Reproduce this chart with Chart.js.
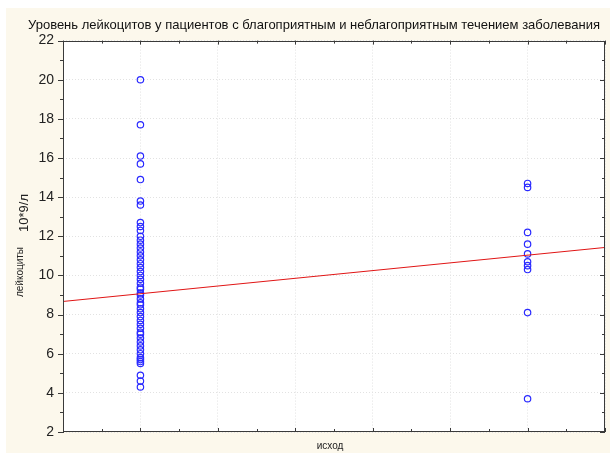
<!DOCTYPE html>
<html><head><meta charset="utf-8">
<script src="https://cdn.jsdelivr.net/npm/chart.js@4/dist/chart.umd.min.js"></script>
<style>html,body{margin:0;padding:0;background:#fff;} #wrap{width:610px;height:457px;position:relative;}</style>
</head><body><div id="wrap"><canvas id="c" width="610" height="457"></canvas></div>
<script>
const chartTitle = 'Уровень лейкоцитов у пациентов с благоприятным и неблагоприятным течением заболевания';
const xAxisTitle = 'исход';
const yAxisTitle = 'лейкоциты';
const yAxisUnit = '10*9/л';

const outcomeCategories = [0, 1]; // 0 = благоприятный, 1 = неблагоприятный
const favorableLeukocytes = [20.0, 17.7, 16.1, 15.7, 14.9, 13.8, 13.6, 12.7, 12.5, 12.3, 12.0, 11.8, 11.6, 11.4, 11.2, 11.0, 10.8, 10.6, 10.4, 10.2, 10.0, 9.8, 9.6, 9.4, 9.3, 9.1, 9.0, 8.8, 8.6, 8.5, 8.3, 8.1, 7.9, 7.7, 7.5, 7.3, 7.1, 7.0, 6.8, 6.6, 6.4, 6.2, 6.0, 5.8, 5.7, 5.6, 5.5, 4.9, 4.6, 4.3];
const unfavorableLeukocytes = [14.7, 14.5, 12.2, 11.6, 11.1, 10.7, 10.5, 10.3, 8.1, 3.7];

const fitLineX = [-0.2, 1.2];
const fitLineY = [8.67, 11.43];

const xMin = -0.2, xMax = 1.2, xMajorStep = 0.2, xMinorStep = 0.1;
const yMin = 2, yMax = 22, yMajorStep = 2, yMinorStep = 1;

const FONT = "'Liberation Sans', Arial, sans-serif";
const NARROW = "'Liberation Sans Narrow', 'Arial Narrow', 'Liberation Sans', sans-serif";

const decorPlugin = {
  id: 'decor',
  beforeDraw(chart) {
    const ctx = chart.ctx, a = chart.chartArea;
    ctx.save();
    ctx.fillStyle = '#ffffff';
    ctx.fillRect(0, 0, chart.width, chart.height);
    ctx.fillStyle = '#fcf8ec';
    ctx.fillRect(6, 8, chart.width - 6, 445);
    ctx.fillStyle = '#ffffff';
    ctx.fillRect(a.left, a.top, a.right - a.left, a.bottom - a.top);
    ctx.restore();
  },
  afterDraw(chart) {
    const ctx = chart.ctx, a = chart.chartArea;
    const xs = chart.scales.x, ys = chart.scales.y;
    ctx.save();
    ctx.strokeStyle = '#3a3a3a';
    ctx.lineWidth = 1;
    ctx.strokeRect(Math.round(a.left) + 0.5, Math.round(a.top) + 0.5, Math.round(a.right - a.left) - 1, Math.round(a.bottom - a.top) - 1);
    ctx.beginPath();
    const ny = Math.round((yMax - yMin) / yMinorStep);
    for (let i = 0; i <= ny; i++) {
      const v = yMin + i * yMinorStep;
      const major = (i % 2 === 0);
      const py = Math.round(ys.getPixelForValue(v)) + 0.5;
      const L = major ? 5 : 3;
      ctx.moveTo(a.left - L, py); ctx.lineTo(a.left + 1, py);
      ctx.moveTo(a.right - L, py); ctx.lineTo(a.right, py);
    }
    const nx = Math.round((xMax - xMin) / xMinorStep);
    for (let i = 0; i <= nx; i++) {
      const v = xMin + i * xMinorStep;
      const major = (i % 2 === 0);
      const px = Math.round(xs.getPixelForValue(v)) + 0.5;
      const L = major ? 4 : 3;
      ctx.moveTo(px, a.bottom); ctx.lineTo(px, a.bottom - L);
      ctx.moveTo(px, a.top); ctx.lineTo(px, a.top + L);
    }
    ctx.stroke();
    ctx.fillStyle = '#222';
    ctx.textAlign = 'center';
    ctx.textBaseline = 'middle';
    ctx.font = '10px ' + NARROW;
    ctx.fillText(xAxisTitle, (a.left + a.right) / 2 - 4, 446);
    ctx.save();
    ctx.translate(20, 272);
    ctx.rotate(-Math.PI / 2);
    ctx.fillText(yAxisTitle, 0, 0);
    ctx.restore();
    ctx.save();
    ctx.translate(24, 213);
    ctx.rotate(-Math.PI / 2);
    ctx.font = '13px ' + FONT;
    ctx.fillText(yAxisUnit, 0, 0);
    ctx.restore();
    ctx.restore();
  }
};

const pointStyleOpts = {
  pointStyle: 'circle', pointRadius: 3.2, pointHoverRadius: 3.2,
  borderColor: '#2a2aff', pointBorderColor: '#2a2aff', pointBorderWidth: 1.2,
  backgroundColor: 'rgba(0,0,0,0)', pointBackgroundColor: 'rgba(0,0,0,0)', showLine: false
};

new Chart(document.getElementById('c'), {
  type: 'scatter',
  data: {
    datasets: [
      Object.assign({ label: 'благоприятный', order: 2,
        data: favorableLeukocytes.map(v => ({ x: outcomeCategories[0], y: v })) }, pointStyleOpts),
      Object.assign({ label: 'неблагоприятный', order: 2,
        data: unfavorableLeukocytes.map(v => ({ x: outcomeCategories[1], y: v })) }, pointStyleOpts),
      { type: 'line', label: 'fit', order: 0,
        data: fitLineX.map((x, i) => ({ x: x, y: fitLineY[i] })),
        borderColor: '#e01515', borderWidth: 1, pointRadius: 0, fill: false, tension: 0 }
    ]
  },
  options: {
    responsive: false, animation: false, devicePixelRatio: 1,
    layout: { padding: { left: 23, right: 5, top: 0, bottom: 0 } },
    plugins: {
      legend: { display: false }, tooltip: { enabled: false },
      title: { display: true, text: chartTitle, color: '#111',
        font: { family: FONT, size: 13, weight: 'normal' }, padding: { top: 18, bottom: 7 } }
    },
    scales: {
      x: {
        type: 'linear', min: xMin, max: xMax,
        ticks: { display: false, stepSize: xMajorStep },
        grid: { color: '#e2e2e2', lineWidth: 1, drawTicks: false },
        border: { display: false, dash: [1, 2] },
        afterFit(s) { s.height = 25; }
      },
      y: {
        type: 'linear', min: yMin, max: yMax,
        ticks: { stepSize: yMajorStep, color: '#222', padding: 9,
          font: { family: FONT, size: 14 } },
        grid: { color: '#e2e2e2', lineWidth: 1, drawTicks: false },
        border: { display: false, dash: [1, 2] },
        afterFit(s) { s.width = 40; }
      }
    }
  },
  plugins: [decorPlugin]
});
</script></body></html>
